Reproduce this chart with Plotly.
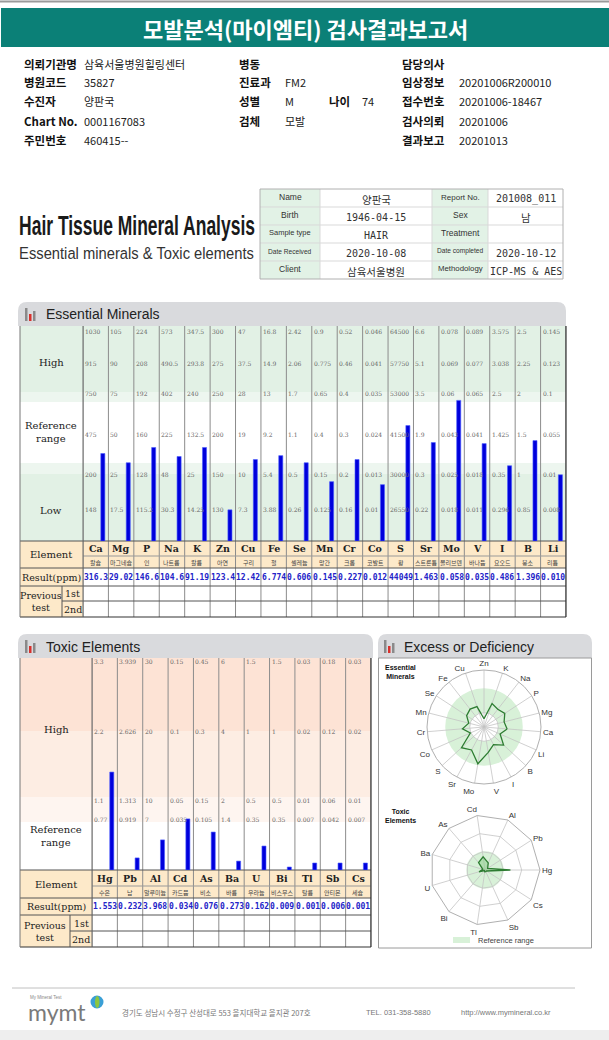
import plotly.graph_objects as go

W, H = 609, 1040
def X(p): return p / W
def Y(p): return 1 - p / H

# ---------------- data ----------------
ess_elements = ["Ca","Mg","P","Na","K","Zn","Cu","Fe","Se","Mn","Cr","Co","S","Sr","Mo","V","I","B","Li"]
ess_korean = ["칼슘","마그네슘","인","나트륨","칼륨","아연","구리","철","셀레늄","망간","크롬","코발트","황","스트론튬","몰리브덴","바나듐","요오드","붕소","리튬"]
ess_results = ["316.3","29.02","146.6","104.6","91.19","123.4","12.42","6.774","0.606","0.145","0.227","0.012","44049","1.463","0.058","0.035","0.486","1.396","0.010"]
ess_level = [40.7,36.4,43.5,39.3,43.5,14.5,37.9,39.7,36.4,27.6,37.9,26.2,53.7,45.8,65.4,45.3,35.0,46.7,30.8]
ess_ref_top   = ["1030","105","224","573","347.5","300","47","16.8","2.42","0.9","0.52","0.046","64500","6.6","0.078","0.089","3.575","2.5","0.145"]
ess_ref_high  = ["915","90","208","490.5","293.8","275","37.5","14.9","2.06","0.775","0.46","0.041","57750","5.1","0.069","0.077","3.038","2.25","0.123"]
ess_ref_upper = ["750","75","192","402","240","250","28","13","1.7","0.65","0.4","0.035","53000","3.5","0.06","0.065","2.5","2","0.1"]
ess_ref_mid   = ["475","50","160","225","132.5","200","19","9.2","1.1","0.4","0.3","0.024","41500","1.9","0.043","0.041","1.425","1.5","0.055"]
ess_ref_lower = ["200","25","128","48","25","150","10","5.4","0.5","0.15","0.2","0.013","30000","0.3","0.025","0.018","0.35","1","0.01"]
ess_ref_low   = ["148","17.5","115.2","30.3","14.25","130","7.3","3.88","0.26","0.125","0.16","0.01","26550","0.22","0.018","0.011","0.296","0.85","0.008"]

tox_elements = ["Hg","Pb","Al","Cd","As","Ba","U","Bi","Tl","Sb","Cs"]
tox_korean = ["수은","납","알루미늄","카드뮴","비소","바륨","우라늄","비스무스","탈륨","안티몬","세슘"]
tox_results = ["1.553","0.232","3.968","0.034","0.076","0.273","0.162","0.009","0.001","0.006","0.001"]
tox_level = [46.2,5.7,14.2,24.1,17.9,4.2,11.3,1.4,3.3,3.3,3.3]
tox_ref_top   = ["3.3","3.939","30","0.15","0.45","6","1.5","1.5","0.03","0.18","0.03"]
tox_ref_high  = ["2.2","2.626","20","0.1","0.3","4","1","1","0.02","0.12","0.02"]
tox_ref_upper = ["1.1","1.313","10","0.05","0.15","2","0.5","0.5","0.01","0.06","0.01"]
tox_ref_mid   = ["0.77","0.919","7","0.035","0.105","1.4","0.35","0.35","0.007","0.042","0.007"]

header_rows = [
    [("의뢰기관명", "삼육서울병원힐링센터"), ("병동", ""), None, ("담당의사", "")],
    [("병원코드", "35827"), ("진료과", "FM2"), None, ("임상정보", "20201006R200010")],
    [("수진자", "양판국"), ("성별", "M"), ("나이", "74"), ("접수번호", "20201006-18467")],
    [("Chart No.", "0001167083"), ("검체", "모발"), None, ("검사의뢰", "20201006")],
    [("주민번호", "460415--"), None, None, ("결과보고", "20201013")],
]
info_rows = [
    ("Name", "양판국", "Report No.", "201008_011"),
    ("Birth", "1946-04-15", "Sex", "남"),
    ("Sample type", "HAIR", "Treatment", ""),
    ("Date Received", "2020-10-08", "Date completed", "2020-10-12"),
    ("Client", "삼육서울병원", "Methodology", "ICP-MS & AES"),
]
info_label_size = {"Sample type": 7.5, "Date Received": 6.6, "Date completed": 6.6,
                   "Methodology": 7.8, "Report No.": 8}

# ---------------- helpers ----------------
KR = "Noto Sans CJK KR"
SANS = "Liberation Sans, Arial"
SERIF = "DejaVu Serif"
MONO = "DejaVu Sans Mono"
shapes, ann = [], []

def rect(x0, y0, x1, y1, fill, line=None, lw=0, layer="below"):
    shapes.append(dict(type="rect", xref="paper", yref="paper", x0=X(x0), x1=X(x1), y0=Y(y1), y1=Y(y0),
                       fillcolor=fill, line=dict(width=lw, color=line or "rgba(0,0,0,0)"), layer=layer))

def hline(x0, x1, y, color, w=1):
    shapes.append(dict(type="line", xref="paper", yref="paper", x0=X(x0), x1=X(x1), y0=Y(y), y1=Y(y),
                       line=dict(color=color, width=w), layer="below"))

def vline(x, y0, y1, color, w=1, xref="paper"):
    shapes.append(dict(type="line", xref=xref, yref="paper", x0=X(x) if xref == "paper" else x,
                       x1=X(x) if xref == "paper" else x, y0=Y(y0), y1=Y(y1),
                       line=dict(color=color, width=w), layer="below"))

def txt(x, y, s, size, color="#222", family=SANS, xa="center", ya="middle", xref="paper", xshift=0):
    ann.append(dict(x=X(x) if xref == "paper" else x, y=Y(y), xref=xref, yref="paper", text=s,
                    showarrow=False, font=dict(size=size, color=color, family=family),
                    xanchor=xa, yanchor=ya, xshift=xshift, align="center"))

def tab(x0, y0, x1, y1, r, fill):
    p = (f"M {X(x0)},{Y(y1)} L {X(x0)},{Y(y0 + r)} Q {X(x0)},{Y(y0)} {X(x0 + r)},{Y(y0)} "
         f"L {X(x1 - r)},{Y(y0)} Q {X(x1)},{Y(y0)} {X(x1)},{Y(y0 + r)} L {X(x1)},{Y(y1)} Z")
    shapes.append(dict(type="path", xref="paper", yref="paper", path=p, fillcolor=fill,
                       line=dict(width=0), layer="below"))

def icon(x, y):
    rect(x, y, x + 2.5, y + 13, "#8a8a8a")
    rect(x + 4, y + 6, x + 6.5, y + 13, "#d9302c")
    rect(x + 8, y + 3, x + 10.5, y + 13, "#8a8a8a")

# ---------------- page header ----------------
hline(0, 609, 1.5, "#9a9a9a", 2)
rect(1, 8, 609, 47, "#0b8077")
txt(305, 28, "<b>모발분석(마이엠티) 검사결과보고서</b>", 22, "white", KR)

row_y = [64, 82, 101, 121, 140]
col_x = [(22, 82), (237, 283), (327, 360), (400, 457)]
for ry, row in zip(row_y, header_rows):
    for (lx, vx), cell in zip(col_x, row):
        if cell is None:
            continue
        lab, val = cell
        txt(lx, ry, f"<b>{lab}</b>", 11.5, "#111", KR, xa="left")
        if val:
            txt(vx, ry, val, 11, "#222", KR, xa="left")

# ---------------- title block ----------------
TITLE = "Hair Tissue Mineral Analysis"
SUBTITLE = "Essential minerals & Toxic elements"
txt(17, 225, f"<b>{TITLE}</b>", 28, "#1a1a1a", SANS, xa="left")
txt(17, 253, SUBTITLE.replace("&", "&amp;"), 17, "#333", SANS, xa="left")

tx = [260, 320, 432, 488, 563]
ty0, rh = 189, 18
rect(tx[0], ty0, tx[1], ty0 + 5 * rh, "#e2f2e6")
rect(tx[2], ty0, tx[3], ty0 + 5 * rh, "#e2f2e6")
for k in range(1, 5):
    hline(tx[0], tx[4], ty0 + k * rh, "#d9d9d9", 1)
for xx in tx[1:4]:
    vline(xx, ty0, ty0 + 5 * rh, "#d9d9d9", 1)
rect(tx[0], ty0, tx[4], ty0 + 5 * rh, "rgba(0,0,0,0)", "#b0b0b0", 1)
for k, (l1, v1, l2, v2) in enumerate(info_rows):
    cy = ty0 + k * rh + rh / 2
    txt((tx[0] + tx[1]) / 2, cy - 1, l1, info_label_size.get(l1, 8.5), "#333", SANS)
    txt((tx[2] + tx[3]) / 2, cy - 1, l2, info_label_size.get(l2, 8.5), "#333", SANS)
    for vx, v in (((tx[1] + tx[2]) / 2, v1), ((tx[3] + tx[4]) / 2, v2)):
        if v:
            fam = KR if any(ord(c) > 0x3000 for c in v) else MONO
            txt(vx, cy + 1.5, v.replace("&", "&amp;"), 10.5 if fam == KR else 10, "#333", fam)

# ---------------- essential minerals ----------------
EL, EX0, EX1 = 20, 83, 566
ET0, EB = 326, 541
tab(18, 302, EX1, ET0, 9, "#d9dadd")
icon(25, 308)
txt(44, 314.5, "Essential Minerals", 14, "#222", SANS, xa="left")

rect(EL, ET0, EX1, 392, "#e2f1e5")
rect(EL, 392, EX1, 402, "#edf6ef")
rect(EL, 402, EX1, 463, "#ffffff")
rect(EL, 463, EX1, 474, "#edf6ef")
rect(EL, 474, EX1, EB, "#e2f1e5")
txt(51, 362, "High", 10, "#222", SERIF)
txt(51, 432, "Reference<br>range", 10, "#222", SERIF)
txt(51, 510, "Low", 10, "#222", SERIF)

ne = len(ess_elements)
for i in range(ne):
    for ry, arr in zip([331, 363, 393, 434, 475, 509],
                       [ess_ref_top, ess_ref_high, ess_ref_upper, ess_ref_mid, ess_ref_lower, ess_ref_low]):
        txt(i - 0.5, ry, arr[i], 6, "#666", SERIF, xa="left", xref="x")

# table
rect(EL, EB, EX1, 568, "#fde9c9")
rect(EL, 568, EX0, 617, "#fde9c9")
for i in range(ne):
    txt(i, 548.5, f"<b>{ess_elements[i]}</b>", 9.5, "#222", SERIF, xref="x")
    txt(i, 562, ess_korean[i], 6, "#444", KR, xref="x")
    txt(i, 577.5, f"<b>{ess_results[i]}</b>", 8, "#2323c8", MONO, xref="x")
txt(51.5, 554.5, "Element", 10, "#222", SERIF)
txt(51.5, 577.5, "Result(ppm)", 9.5, "#222", SERIF)
txt(41, 601, "Previous<br>test", 9.5, "#222", SERIF)
txt(72.5, 593.5, "1st", 9.5, "#222", SERIF)
txt(72.5, 609, "2nd", 9.5, "#222", SERIF)

for i in range(ne + 1):
    vline(i - 0.5, ET0, 617, "#8c8c8c", 1, xref="x")
hline(EL, EX1, EB, "#555", 1.2)
hline(EX0, EX1, 556, "#999", 1)
hline(EL, EX1, 568, "#555", 1)
hline(EL, EX1, 586, "#555", 1)
hline(62, EX1, 601, "#555", 1)
hline(EL, EX1, 617, "#333", 1.2)
vline(62, 586, 617, "#555", 1)
vline(EL, ET0, 617, "#777", 1)
vline(EX1, ET0, 617, "#333", 1.2)
vline(EX0, ET0, 617, "#666", 1)

# ---------------- toxic elements ----------------
TL, TX0, TX1 = 20, 92, 371
TT0, TB = 658, 870
tab(18, 634, 373, TT0, 9, "#d9dadd")
icon(25, 640)
txt(44, 646.5, "Toxic Elements", 14, "#222", SANS, xa="left")
rect(TL, TT0, TX1, 731, "#fde3d5")
rect(TL, 731, TX1, 797, "#fdede3")
rect(TL, 797, TX1, 822, "#fef5f0")
rect(TL, 822, TX1, TB, "#ffffff")
txt(56, 729, "High", 10, "#222", SERIF)
txt(56, 836, "Reference<br>range", 10, "#222", SERIF)

nt = len(tox_elements)
for i in range(nt):
    for ry, arr in zip([661, 731, 800, 819], [tox_ref_top, tox_ref_high, tox_ref_upper, tox_ref_mid]):
        txt(i - 0.5, ry, arr[i], 6, "#666", SERIF, xa="left", xref="x2")

rect(TL, TB, TX1, 898, "#fde9c9")
rect(TL, 898, TX0, 947, "#fde9c9")
for i in range(nt):
    txt(i, 878, f"<b>{tox_elements[i]}</b>", 9.5, "#222", SERIF, xref="x2")
    txt(i, 892, tox_korean[i], 6, "#444", KR, xref="x2")
    txt(i, 906.5, f"<b>{tox_results[i]}</b>", 8, "#2323c8", MONO, xref="x2")
txt(56, 884, "Element", 10, "#222", SERIF)
txt(56, 906.5, "Result(ppm)", 9.5, "#222", SERIF)
txt(45, 931, "Previous<br>test", 9.5, "#222", SERIF)
txt(81, 923, "1st", 9.5, "#222", SERIF)
txt(81, 939, "2nd", 9.5, "#222", SERIF)

for i in range(nt + 1):
    vline(i - 0.5, TT0, 947, "#8c8c8c", 1, xref="x2")
hline(TL, TX1, TB, "#555", 1.2)
hline(TX0, TX1, 886, "#999", 1)
hline(TL, TX1, 898, "#555", 1)
hline(TL, TX1, 915, "#555", 1)
hline(70, TX1, 931, "#555", 1)
hline(TL, TX1, 947, "#333", 1.2)
vline(70, 915, 947, "#555", 1)
vline(TL, TT0, 947, "#777", 1)
vline(TX1, TT0, 947, "#333", 1.2)
vline(TX0, TT0, 947, "#666", 1)

# ---------------- excess or deficiency ----------------
BX0, BX1 = 378, 592
tab(BX0, 634, BX1, TT0, 9, "#d9dadd")
icon(384, 640)
txt(402, 646.5, "Excess or Deficiency", 14, "#222", SANS, xa="left")
rect(BX0 + 0.5, TT0, BX1 - 0.5, 948, "rgba(0,0,0,0)", "#9a9a9a", 1)
txt(383, 662, "<b>Essential<br>Minerals</b>", 7, "#111", SANS, xa="left", ya="top")
txt(383, 806, "<b>Toxic<br>Elements</b>", 7, "#111", SANS, xa="left", ya="top")

GREEN = "#d8f1d8"
ecx, ecy, eR = 484, 727, 57
tcx, tcy, tR = 485, 870, 55

def circ(cx, cy, r, fill):
    shapes.append(dict(type="circle", xref="paper", yref="paper", x0=X(cx - r), x1=X(cx + r),
                       y0=Y(cy + r), y1=Y(cy - r), fillcolor=fill, line=dict(width=0), layer="below"))

circ(ecx, ecy, eR * 0.68, GREEN)
circ(ecx, ecy, eR * 0.25, "#ffffff")
circ(tcx, tcy, tR * 0.34, GREEN)
rect(453, 937, 470, 943, GREEN)
txt(476, 940, "Reference range", 7.5, "#444", SANS, xa="left")

# ---------------- footer ----------------
hline(12, 575, 988, "#c0c0c0", 1)
txt(28, 997, "My Mineral Test", 4.5, "#888", SANS, xa="left")
txt(26, 1012, "mymt", 23, "#7a7a7a", "Lato, Open Sans", xa="left")
circ(97, 1002, 6.5, "#3a9fd6")
shapes.append(dict(type="circle", xref="paper", yref="paper", x0=X(95), x1=X(99.5),
                   y0=Y(1008), y1=Y(996), fillcolor="#8cc63f", line=dict(width=0), layer="below"))
txt(120, 1012, "경기도 성남시 수정구 산성대로 553 을지대학교 을지관 207호", 7.5, "#777", KR, xa="left")
txt(364, 1012, "TEL. 031-358-5880", 7.5, "#777", SANS, xa="left")
txt(459, 1012, "http://www.mymineral.co.kr", 7.5, "#777", SANS, xa="left")
rect(0, 1030, 609, 1040, "#eeeeee")

# ---------------- traces ----------------
fig = go.Figure()
fig.add_trace(go.Bar(x=list(range(ne)), y=ess_level, width=0.16, offset=0.2,
                     marker=dict(color="#0000dc", line=dict(color="#4a5cff", width=0.6)),
                     xaxis="x", yaxis="y", hoverinfo="skip"))
fig.add_trace(go.Bar(x=list(range(nt)), y=tox_level, width=0.16, offset=0.2,
                     marker=dict(color="#0000dc", line=dict(color="#4a5cff", width=0.6)),
                     xaxis="x2", yaxis="y2", hoverinfo="skip"))
fig.add_trace(go.Scatterpolar(r=ess_level + [ess_level[0]], theta=ess_elements + [ess_elements[0]],
                              mode="lines", line=dict(color="#2e7d32", width=1.3), subplot="polar",
                              hoverinfo="skip"))
fig.add_trace(go.Scatterpolar(r=tox_level + [tox_level[0]], theta=tox_elements + [tox_elements[0]],
                              mode="lines", line=dict(color="#2e7d32", width=1.3), fill="toself",
                              fillcolor="rgba(140,205,140,0.55)", subplot="polar2", hoverinfo="skip"))

ax_common = dict(showgrid=False, zeroline=False, showticklabels=False, ticks="", fixedrange=True)
polar_ang = dict(direction="counterclockwise", showline=True, linecolor="#b0b0b0", linewidth=1,
                 gridcolor="#c4c4c4", gridwidth=0.8, ticks="",
                 tickfont=dict(size=8, color="#333", family=SANS))
polar_rad = dict(range=[0, 100], showticklabels=False, ticks="", showline=False,
                 gridcolor="#c4c4c4", gridwidth=0.8)

fig.update_layout(
    width=W, height=H, margin=dict(l=0, r=0, t=0, b=0),
    paper_bgcolor="white", plot_bgcolor="rgba(0,0,0,0)", showlegend=False,
    xaxis=dict(domain=[X(EX0), X(EX1)], range=[-0.5, ne - 0.5], **ax_common),
    yaxis=dict(domain=[Y(EB), Y(ET0)], range=[0, 100], **ax_common),
    xaxis2=dict(domain=[X(TX0), X(TX1)], range=[-0.5, nt - 0.5], anchor="y2", **ax_common),
    yaxis2=dict(domain=[Y(TB), Y(TT0)], range=[0, 100], anchor="x2", **ax_common),
    polar=dict(domain=dict(x=[X(ecx - eR), X(ecx + eR)], y=[Y(ecy + eR), Y(ecy - eR)]),
               bgcolor="rgba(0,0,0,0)", gridshape="circular",
               radialaxis=dict(tickvals=[25], **polar_rad),
               angularaxis=dict(rotation=-360 / ne / 4, categoryorder="array",
                                categoryarray=ess_elements, **polar_ang)),
    polar2=dict(domain=dict(x=[X(tcx - tR), X(tcx + tR)], y=[Y(tcy + tR), Y(tcy - tR)]),
                bgcolor="rgba(0,0,0,0)", gridshape="linear",
                radialaxis=dict(tickvals=[33.3, 66.7], **polar_rad),
                angularaxis=dict(rotation=0, categoryorder="array",
                                 categoryarray=tox_elements, **polar_ang)),
    shapes=shapes, annotations=ann, bargap=0,
)

# condensed look for the two title lines (the original uses a condensed typeface)
post = """
document.body.style.margin='0';
var targets = {'%s': 236, '%s': 235};
document.querySelectorAll('text.annotation-text').forEach(function(t){
  var w = targets[t.textContent];
  if (w) {
    var bb = t.getBBox();
    if (bb.width > 0) {
      t.style.transformBox = 'fill-box';
      t.style.transformOrigin = 'left center';
      t.style.transform = 'scaleX(' + (w / bb.width) + ')';
    }
  }
});
""" % (TITLE, SUBTITLE)

fig.write_html("out.html", config={"displayModeBar": False, "staticPlot": True}, post_script=post)
